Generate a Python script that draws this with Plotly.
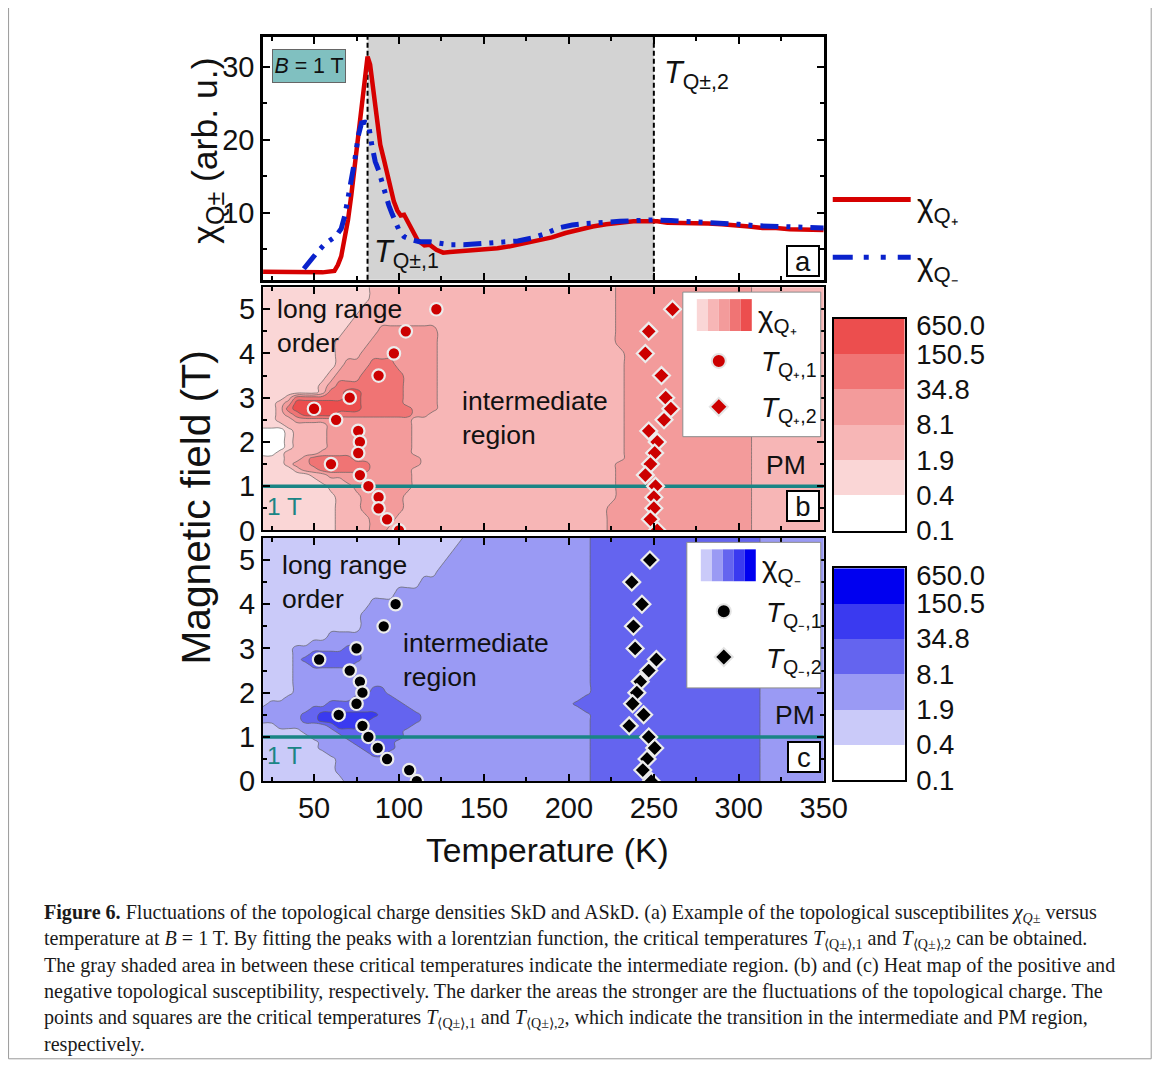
import plotly.graph_objects as go

W, H = 1168, 1068

# ---------------- data: panel (a), chi at B = 1 T ----------------
T_RED = [20, 40, 55, 62, 64, 66, 68, 70, 72, 74, 76, 78, 80, 81.5, 83, 85, 87, 89, 91, 93, 95, 97,
         99, 101, 103, 105, 108, 111, 115, 118, 122, 126, 130, 135, 142, 150, 158, 166, 174, 182,
         190, 198, 206, 214, 222, 230, 238, 246, 252, 258, 266, 274, 282, 290, 298, 306, 314, 322,
         330, 340, 350]
CHI_RED = [1.9, 1.8, 1.8, 2.0, 2.8, 4.0, 6.5, 9.0, 12.5, 16.5, 20.0, 24.0, 28.5, 31.4, 30.3, 26.5,
           22.0, 19.3, 17.4, 15.3, 13.2, 11.5, 10.3, 9.6, 9.7, 8.9, 7.4, 6.2, 5.5, 5.6, 4.9, 4.5,
           4.6, 4.7, 4.7, 4.9, 5.1, 5.4, 5.8, 6.1, 6.6, 7.2, 7.7, 8.1, 8.4, 8.6, 8.8, 8.8, 8.8, 8.6,
           8.6, 8.5, 8.5, 8.4, 8.3, 8.1, 7.9, 7.9, 7.7, 7.6, 7.6]
T_BLUE = [44, 48, 52, 56, 60, 63, 66, 68, 70, 72, 74, 76, 78, 80, 82, 84, 86, 88, 90, 92, 94, 96,
          98, 100, 103, 107, 112, 118, 124, 130, 138, 146, 154, 162, 170, 178, 186, 194, 202, 210,
          220, 230, 240, 250, 260, 270, 280, 290, 300, 310, 320, 330, 340, 350]
CHI_BLUE = [2.3, 3.5, 4.6, 5.6, 6.3, 6.8, 7.8, 9.5, 12.0, 14.2, 17.2, 20.5, 22.3, 22.4, 22.2, 19.3,
            17.0, 15.8, 14.0, 12.6, 11.0, 9.8, 8.8, 7.6, 6.7, 6.3, 6.0, 6.0, 5.8, 5.6, 5.6, 5.7,
            5.8, 6.0, 6.1, 6.5, 7.1, 7.9, 8.3, 8.5, 8.7, 8.8, 8.9, 9.0, 8.9, 8.8, 8.7, 8.6, 8.4,
            8.2, 8.1, 8.0, 7.9, 7.9]
T_Q1_AT_1T = 81.5
T_Q2_AT_1T = 250.0
B_CUT = 1.0

# ---------------- data: critical temperatures ----------------
B_T1_PLUS = [5.0, 4.5, 4.0, 3.5, 3.0, 2.75, 2.5, 2.25, 2.0, 1.75, 1.5, 1.25, 1.0, 0.75, 0.5, 0.25, 0.0]
T1_PLUS = [122, 104, 97, 88, 71, 50, 63, 76, 77, 76, 60, 77, 82, 88, 88, 93, 100]
B_T2_PLUS = [5.0, 4.5, 4.0, 3.5, 3.0, 2.75, 2.5, 2.25, 2.0, 1.75, 1.5, 1.25, 1.0, 0.75, 0.5, 0.25, 0.0]
T2_PLUS = [261, 247, 245, 254.5, 257, 260, 256, 247, 252, 250.5, 248, 245, 251, 250, 250, 248, 252]
B_T1_MINUS = [4.0, 3.5, 3.0, 2.75, 2.5, 2.25, 2.0, 1.75, 1.5, 1.25, 1.0, 0.75, 0.5, 0.25, 0.0]
T1_MINUS = [98, 91, 75, 53, 71, 77, 78.5, 75, 64.5, 78.5, 82, 87.5, 93, 106, 110.5]
B_T2_MINUS = [5.0, 4.5, 4.0, 3.5, 3.0, 2.75, 2.5, 2.25, 2.0, 1.75, 1.5, 1.25, 1.0, 0.75, 0.5, 0.25, 0.0]
T2_MINUS = [247.7, 237, 243, 238, 239, 251.5, 247, 242, 240, 237.5, 244, 235.5, 247, 250.5, 246, 243.5, 248.5]

# ---------------- data: heat-map level regions (band index, upper T of the run) ----------------
# band 0: 0.1-0.4, 1: 0.4-1.9, 2: 1.9-8.1, 3: 8.1-34.8, 4: 34.8-150.5, 5: 150.5-650
PLUS_ROWS = [
    (5.5,   [(1, 84), (2, 228), (3, 306), (2, 350)]),
    (5.25,  [(1, 81), (2, 229), (3, 306), (2, 350)]),
    (5.0,   [(1, 78), (2, 229), (3, 306), (2, 350)]),
    (4.75,  [(1, 73), (2, 229), (3, 306), (2, 350)]),
    (4.5,   [(1, 68), (2, 87), (3, 122), (2, 229), (3, 306), (2, 350)]),
    (4.25,  [(1, 64), (2, 80), (3, 123), (2, 229), (3, 306), (2, 350)]),
    (4.0,   [(1, 61), (2, 75), (3, 123), (2, 230), (3, 306), (2, 350)]),
    (3.75,  [(1, 60), (2, 66), (3, 82), (4, 99), (3, 123), (2, 230), (3, 306), (2, 350)]),
    (3.5,   [(1, 57), (2, 61), (3, 77), (4, 100), (3, 123), (2, 230), (3, 306), (2, 350)]),
    (3.25,  [(1, 52), (2, 57), (3, 61), (4, 100), (3, 123), (2, 230), (3, 306), (2, 350)]),
    (3.125, [(1, 50), (2, 57), (3, 59), (4, 68), (5, 78), (4, 101), (3, 123), (2, 230), (3, 306), (2, 350)]),
    (3.0,   [(1, 31), (2, 35), (3, 38), (4, 67), (5, 79), (4, 102), (3, 123), (2, 230), (3, 306), (2, 350)]),
    (2.875, [(1, 28), (2, 33), (3, 35), (4, 38), (5, 79), (4, 104), (3, 123), (2, 230), (3, 306), (2, 350)]),
    (2.75,  [(1, 27), (2, 32), (3, 34), (4, 36), (5, 77), (4, 106), (3, 122), (2, 230), (3, 306), (2, 350)]),
    (2.625, [(1, 26), (2, 32), (3, 35), (4, 40), (5, 60), (4, 107), (3, 116), (2, 230), (3, 306), (2, 350)]),
    (2.5,   [(1, 26), (2, 36), (3, 107), (2, 230), (3, 306), (2, 350)]),
    (2.375, [(1, 30), (2, 56), (3, 106), (2, 230), (3, 306), (2, 350)]),
    (2.25,  [(0, 33), (1, 36), (2, 56), (3, 106), (2, 230), (3, 306), (2, 350)]),
    (2.0,   [(0, 34), (1, 37), (2, 56), (3, 107), (2, 230), (3, 306), (2, 350)]),
    (1.875, [(0, 33), (1, 37), (2, 55), (3, 108), (2, 230), (3, 306), (2, 350)]),
    (1.75,  [(0, 28), (1, 34), (2, 54), (3, 109), (2, 230), (3, 306), (2, 350)]),
    (1.625, [(1, 33), (2, 40), (3, 49), (4, 74), (3, 110), (2, 230), (3, 306), (2, 350)]),
    (1.5,   [(1, 33), (2, 38), (3, 46), (4, 80), (3, 110), (2, 229), (3, 306), (2, 350)]),
    (1.375, [(1, 36), (2, 43), (3, 54), (4, 80), (3, 109), (2, 229), (3, 306), (2, 350)]),
    (1.25,  [(1, 45), (2, 58), (3, 108), (2, 229), (3, 306), (2, 350)]),
    (1.125, [(1, 50), (2, 66), (3, 107), (2, 229), (3, 306), (2, 350)]),
    (1.0,   [(1, 55), (2, 72), (3, 106), (2, 229), (3, 306), (2, 350)]),
    (0.75,  [(1, 60), (2, 76), (3, 103), (2, 227), (3, 306), (2, 350)]),
    (0.5,   [(1, 62), (2, 78), (3, 101), (2, 224), (3, 306), (2, 350)]),
    (0.25,  [(1, 63), (2, 81), (3, 98), (2, 222), (3, 306), (2, 350)]),
    (0.0,   [(1, 64), (2, 84), (3, 94), (2, 222), (3, 306), (2, 350)]),
]
MINUS_ROWS = [
    (5.5,   [(1, 137), (2, 212), (3, 310), (2, 350)]),
    (5.25,  [(1, 132), (2, 212), (3, 310), (2, 350)]),
    (5.0,   [(1, 128), (2, 212), (3, 310), (2, 350)]),
    (4.75,  [(1, 121), (2, 212), (3, 310), (2, 350)]),
    (4.5,   [(1, 111), (2, 212), (3, 310), (2, 350)]),
    (4.25,  [(1, 96), (2, 212), (3, 310), (2, 350)]),
    (4.0,   [(1, 82), (2, 212), (3, 310), (2, 350)]),
    (3.75,  [(1, 79), (2, 212), (3, 310), (2, 350)]),
    (3.5,   [(1, 77), (2, 212), (3, 310), (2, 350)]),
    (3.25,  [(1, 55), (2, 212), (3, 310), (2, 350)]),
    (3.125, [(1, 45), (2, 212), (3, 310), (2, 350)]),
    (3.0,   [(1, 38), (2, 69), (3, 77), (2, 212), (3, 310), (2, 350)]),
    (2.875, [(1, 37), (2, 49), (3, 77), (2, 212), (3, 310), (2, 350)]),
    (2.75,  [(1, 37), (2, 42), (3, 75), (2, 212), (3, 310), (2, 350)]),
    (2.625, [(1, 37), (2, 45), (3, 71), (2, 212), (3, 310), (2, 350)]),
    (2.5,   [(1, 37), (2, 212), (3, 310), (2, 350)]),
    (2.25,  [(1, 37), (2, 212), (3, 310), (2, 350)]),
    (2.0,   [(1, 36), (2, 83), (3, 93), (2, 212), (3, 310), (2, 350)]),
    (1.875, [(1, 33), (2, 71), (3, 97), (2, 208), (3, 310), (2, 350)]),
    (1.75,  [(1, 22), (2, 58), (3, 104), (2, 204), (3, 310), (2, 350)]),
    (1.625, [(2, 46), (3, 107), (2, 209), (3, 310), (2, 350)]),
    (1.5,   [(2, 40), (3, 50), (4, 87), (3, 111), (2, 212), (3, 310), (2, 350)]),
    (1.375, [(2, 41), (3, 52), (4, 82), (3, 110), (2, 212), (3, 310), (2, 350)]),
    (1.25,  [(1, 25), (2, 57), (3, 60), (4, 78), (3, 106), (2, 212), (3, 310), (2, 350)]),
    (1.125, [(1, 41), (2, 63), (3, 104), (2, 212), (3, 310), (2, 350)]),
    (1.0,   [(1, 47), (2, 69), (3, 101), (2, 212), (3, 310), (2, 350)]),
    (0.875, [(1, 50), (2, 73), (3, 99), (2, 212), (3, 310), (2, 350)]),
    (0.75,  [(1, 54), (2, 77), (3, 96), (2, 212), (3, 310), (2, 350)]),
    (0.625, [(1, 57), (2, 84), (3, 91), (2, 212), (3, 310), (2, 350)]),
    (0.5,   [(1, 60), (2, 212), (3, 310), (2, 350)]),
    (0.25,  [(1, 64), (2, 212), (3, 310), (2, 350)]),
    (0.0,   [(1, 66), (2, 212), (3, 310), (2, 350)]),
]
BAND_INDEX = [0, 1, 2, 3, 4, 5]
LEVEL_LABELS = ["0.1", "0.4", "1.9", "8.1", "34.8", "150.5", "650.0"]
X_TICKS = [50, 100, 150, 200, 250, 300, 350]

CAPTION_LINES = [
    "<b>Figure 6.</b> Fluctuations of the topological charge densities SkD and ASkD. (a) Example of the topological susceptibilites <i>χ<sub>Q±</sub></i> versus",
    "temperature at <i>B</i> = 1 T. By fitting the peaks with a lorentzian function, the critical temperatures <i>T</i><sub>⟨Q±⟩,1</sub> and <i>T</i><sub>⟨Q±⟩,2</sub> can be obtained.",
    "The gray shaded area in between these critical temperatures indicate the intermediate region. (b) and (c) Heat map of the positive and",
    "negative topological susceptibility, respectively. The darker the areas the stronger are the fluctuations of the topological charge. The",
    "points and squares are the critical temperatures <i>T</i><sub>⟨Q±⟩,1</sub> and <i>T</i><sub>⟨Q±⟩,2</sub>, which indicate the transition in the intermediate and PM region,",
    "respectively.",
]

# ---------------- styles ----------------
RED_BANDS = ["#ffffff", "#fad6d6", "#f7b6b6", "#f39b9b", "#f07474", "#ec4e4e"]
BLUE_BANDS = ["#ffffff", "#cacaf9", "#9a9af4", "#6464ef", "#3a3af0", "#0000f0"]
FONT = "Liberation Sans, Arial, sans-serif"
SERIF = "Liberation Serif, Times New Roman, serif"
TEAL = "#1a8585"
T_MIN, T_MAX = 20, 350

# layout placement (target picture pixels -> paper), corrected for page offset/scale
SX, OX, SY, OY = 0.98, 7.8, 0.985, 7.9


def px(x):
    return ((x - OX) / SX) / W


def py(y):
    yt = y * 1.0046 - 4.2
    return 1 - ((yt - OY) / SY) / H


def fs(s):
    return round(s / 0.982, 1)


T_GRID = list(range(T_MIN, T_MAX + 1, 5))


def expand(rows):
    rows_sorted = sorted(rows, key=lambda r: r[0])
    ys = [r[0] for r in rows_sorted]
    z = []
    for _, segs in rows_sorted:
        line = []
        for t in T_GRID:
            for band, tend in segs:
                if t <= tend:
                    line.append(band)
                    break
        z.append(line)
    return ys, z


def band_scale(colors):
    return [[i / 5, c] for i, c in enumerate(colors)]


fig = go.Figure()

# panel (a)
fig.add_trace(go.Scatter(x=T_RED, y=CHI_RED, mode="lines", xaxis="x", yaxis="y",
                         line=dict(color="#d60000", width=4.5), hoverinfo="skip"))
fig.add_trace(go.Scatter(x=T_BLUE, y=CHI_BLUE, mode="lines", xaxis="x", yaxis="y",
                         line=dict(color="#0a22cc", width=5, dash="18px,8px,4px,8px,4px,8px"),
                         hoverinfo="skip"))

# panels (b) and (c)
for rows, colors, xa, ya, t1b, t1, t2b, t2, mcol in [
    (PLUS_ROWS, RED_BANDS, "x2", "y2", B_T1_PLUS, T1_PLUS, B_T2_PLUS, T2_PLUS, "#cc0000"),
    (MINUS_ROWS, BLUE_BANDS, "x3", "y3", B_T1_MINUS, T1_MINUS, B_T2_MINUS, T2_MINUS, "#000000"),
]:
    ys, z = expand(rows)
    fig.add_trace(go.Contour(x=T_GRID, y=ys, z=z, xaxis=xa, yaxis=ya, autocontour=False,
                             contours=dict(start=0.5, end=4.5, size=1, coloring="fill"),
                             colorscale=band_scale(colors), showscale=False,
                             line=dict(color="rgba(95,95,95,0.85)", width=0.8, smoothing=1.3),
                             hoverinfo="skip"))
    fig.add_trace(go.Scatter(x=[T_MIN, T_MAX], y=[B_CUT, B_CUT], mode="lines", xaxis=xa, yaxis=ya,
                             line=dict(color=TEAL, width=3.5), hoverinfo="skip"))
    fig.add_trace(go.Scatter(x=t1, y=t1b, mode="markers", xaxis=xa, yaxis=ya,
                             marker=dict(symbol="circle", size=12.5, color=mcol,
                                         line=dict(color="#ececec", width=2.2)),
                             hoverinfo="skip"))
    fig.add_trace(go.Scatter(x=t2, y=t2b, mode="markers", xaxis=xa, yaxis=ya,
                             marker=dict(symbol="diamond", size=13, color=mcol,
                                         line=dict(color="#ececec", width=2.2)),
                             hoverinfo="skip"))

# colour bars
for colors, xa, ya in [(RED_BANDS, "x4", "y4"), (BLUE_BANDS, "x5", "y5")]:
    fig.add_trace(go.Heatmap(x=[0], y=BAND_INDEX, z=[[b] for b in BAND_INDEX], xaxis=xa, yaxis=ya,
                             colorscale=band_scale(colors), zmin=0, zmax=5, showscale=False,
                             hoverinfo="skip"))

XD = [px(263), px(824)]
TICKFONT = dict(family=FONT, size=fs(28.5), color="#111")
common_x = dict(range=[T_MIN, T_MAX], domain=XD, showline=True, linecolor="black", linewidth=2,
                mirror="allticks", ticks="inside", ticklen=7, tickwidth=2, tickcolor="black",
                tickmode="array", tickvals=X_TICKS, showgrid=False, zeroline=False,
                minor=dict(ticks="inside", ticklen=4, tickwidth=1.5, tickcolor="black",
                           dtick=25, tick0=0, showgrid=False),
                tickfont=TICKFONT)
common_yb = dict(range=[0, 5.5], showline=True, linecolor="black", linewidth=2,
                 mirror="allticks", ticks="inside", ticklen=7, tickwidth=2, tickcolor="black",
                 dtick=1, tick0=0, showgrid=False, zeroline=False,
                 minor=dict(ticks="inside", ticklen=4, tickwidth=1.5, tickcolor="black",
                            dtick=0.5, tick0=0, showgrid=False),
                 tickfont=TICKFONT)

layout = dict(
    width=W, height=H, margin=dict(l=0, r=0, t=0, b=0),
    paper_bgcolor="white", plot_bgcolor="rgba(0,0,0,0)", showlegend=False,
    font=dict(family=FONT, color="#111"),
    xaxis=dict(common_x, anchor="y", showticklabels=False, linewidth=2.5),
    yaxis=dict(range=[0.8, 34.1], domain=[py(276.5), py(33)], anchor="x", showline=True,
               linecolor="black", linewidth=2.5, mirror="allticks", ticks="inside", ticklen=7,
               tickwidth=2, tickcolor="black", dtick=10, tick0=0, showgrid=False, zeroline=False,
               minor=dict(ticks="inside", ticklen=4, tickwidth=1.5, tickcolor="black", dtick=5,
                          tick0=0, showgrid=False),
               tickfont=TICKFONT),
    xaxis2=dict(common_x, anchor="y2", showticklabels=False),
    yaxis2=dict(common_yb, domain=[py(528), py(284)], anchor="x2"),
    xaxis3=dict(common_x, anchor="y3", showticklabels=True),
    yaxis3=dict(common_yb, domain=[py(779.5), py(535.5)], anchor="x3"),
)
for xa, ya, ytop, ybot in [("xaxis4", "yaxis4", 315.7, 528.3), ("xaxis5", "yaxis5", 566, 778.3)]:
    n = xa[-1]
    layout[xa] = dict(domain=[px(834), px(905)], range=[-0.5, 0.5], anchor="y" + n,
                      showticklabels=False, ticks="", showline=True, mirror=True,
                      linecolor="black", linewidth=2, showgrid=False, zeroline=False)
    layout[ya] = dict(domain=[py(ybot), py(ytop)], range=[-0.5, 5.5], anchor="x" + n,
                      side="right", tickmode="array",
                      tickvals=[b - 0.5 for b in BAND_INDEX] + [5.3], ticktext=LEVEL_LABELS,
                      ticks="", showline=True, mirror=True, linecolor="black", linewidth=2,
                      showgrid=False, zeroline=False, ticklabelstandoff=4,
                      tickfont=dict(family=FONT, size=fs(27), color="#111"))
fig.update_layout(**layout)

shapes = []
# panel (a) shaded intermediate region and critical temperatures
shapes.append(dict(type="rect", xref="x", yref="y domain", x0=T_Q1_AT_1T, x1=T_Q2_AT_1T,
                   y0=0, y1=1, fillcolor="#d3d3d3", line=dict(width=0), layer="below"))
for tq in (T_Q1_AT_1T, T_Q2_AT_1T):
    shapes.append(dict(type="line", xref="x", yref="y domain", x0=tq, x1=tq, y0=0, y1=1,
                       line=dict(color="black", width=2, dash="5px,3px"), layer="below"))
# panel (a) legend lines
shapes.append(dict(type="line", xref="paper", yref="paper", x0=px(833), x1=px(911),
                   y0=py(196), y1=py(196), line=dict(color="#d60000", width=5)))
shapes.append(dict(type="line", xref="paper", yref="paper", x0=px(833), x1=px(911),
                   y0=py(254), y1=py(254),
                   line=dict(color="#0a22cc", width=5, dash="20px,11px,5px,12px,5px,12px")))


def diamond(cx, cy, r):
    return (f"M {px(cx - r)},{py(cy)} L {px(cx)},{py(cy - r)} L {px(cx + r)},{py(cy)} "
            f"L {px(cx)},{py(cy + r)} Z")


def text(x, y, s, size, xanchor="center", color="#111", family=FONT, **kw):
    d = dict(xref="paper", yref="paper", x=px(x), y=py(y), xanchor=xanchor, yanchor="middle",
             showarrow=False, text=s, font=dict(family=family, size=fs(size), color=color))
    d.update(kw)
    return d


annotations = []
for (bx0, by0, bx1, by1, sw_x, sw_y0, sw_y1, key_x, ky1, ky2, colors, mcol, txt_x, sym) in [
    (683, 289, 821, 434, 697, 296, 328, 719, 358, 404, RED_BANDS, "#cc0000", 759, "₊"),
    (687, 540, 821, 686, 701, 547, 579, 724, 609, 655, BLUE_BANDS, "#000000", 764, "₋"),
]:
    shapes.append(dict(type="rect", xref="paper", yref="paper", x0=px(bx0), x1=px(bx1),
                       y0=py(by1), y1=py(by0), fillcolor="white",
                       line=dict(color="#8c8c8c", width=1)))
    for i in range(5):
        shapes.append(dict(type="rect", xref="paper", yref="paper", x0=px(sw_x + 11 * i),
                           x1=px(sw_x + 11 * (i + 1)), y0=py(sw_y1), y1=py(sw_y0),
                           fillcolor=colors[i + 1], line=dict(width=0)))
    shapes.append(dict(type="circle", xref="paper", yref="paper", x0=px(key_x - 7),
                       x1=px(key_x + 7), y0=py(ky1 + 7), y1=py(ky1 - 7), fillcolor=mcol,
                       line=dict(color="#e4e4e4", width=2)))
    shapes.append(dict(type="path", xref="paper", yref="paper", path=diamond(key_x, ky2, 9),
                       fillcolor=mcol, line=dict(color="#e4e4e4", width=2)))
    annotations.append(text(sw_x + 59, (sw_y0 + sw_y1) / 2 + 3, f"χ<sub>Q{sym}</sub>", 29,
                            xanchor="left"))
    annotations.append(text(txt_x, ky1 + 3, f"<i>T</i><sub>Q{sym},1</sub>", 27.5, xanchor="left"))
    annotations.append(text(txt_x, ky2 + 3, f"<i>T</i><sub>Q{sym},2</sub>", 27.5, xanchor="left"))

# outer frame (left, right, bottom edges)
shapes.append(dict(type="rect", xref="paper", yref="paper", x0=max(px(3), 0.0005),
                   x1=min(px(1160), 0.9993), y0=py(1058), y1=1.05,
                   line=dict(color="#9a9a9a", width=1)))

# panel (a) legend labels
annotations.append(text(915, 204, "χ<sub>Q₊</sub>", 31, xanchor="left"))
annotations.append(text(915, 263, "χ<sub>Q₋</sub>", 31, xanchor="left"))

# panel (a) texts
annotations.append(text(308.5, 62.5, "<i>B</i> = 1 T", 21, bgcolor="#80c0c0",
                        bordercolor="#666666", borderwidth=1, borderpad=0,
                        width=round(71 / 0.98), height=round(32 / 0.985)))
annotations.append(text(372, 250, "<i>T</i><sub>Q±,1</sub>", 30, xanchor="left"))
annotations.append(text(662, 71, "<i>T</i><sub>Q±,2</sub>", 30, xanchor="left"))

# panel letters
for lab, cx, cy in [("a", 803.5, 257.5), ("b", 803.5, 504), ("c", 804, 755)]:
    annotations.append(text(cx, cy, lab, 27, bgcolor="white", bordercolor="black",
                            borderwidth=2, borderpad=0, width=30, height=28))

# region labels (placed in data coordinates of panels b and c)
for xa, ya, lr, im, pm, one in [
    ("x2", "y2", (27, 4.62), (136, 2.55), (328, 1.48), (21.2, 0.55)),
    ("x3", "y3", (30, 4.5), (101, 2.75), (333, 1.49), (21.2, 0.58)),
]:
    for (xx, yy), s, anc, size, col in [(lr, "long range<br>order", "left", 26, "#111"),
                                        (im, "intermediate<br>region", "left", 26, "#111"),
                                        (pm, "PM", "center", 26, "#111"),
                                        (one, "1 T", "left", 24, TEAL)]:
        annotations.append(dict(xref=xa, yref=ya, x=xx, y=yy, xanchor=anc, yanchor="middle",
                                align="left", showarrow=False, text=s,
                                font=dict(family=FONT, size=fs(size), color=col)))

# axis titles
annotations.append(text(206, 147, "χ<sub>Q±</sub> (arb. u.)", 35, textangle=-90))
annotations.append(text(196, 505, "Magnetic field (T)", 40, textangle=-90))
annotations.append(text(548, 849, "Temperature (K)", 33))

# caption
for i, line in enumerate(CAPTION_LINES):
    annotations.append(text(42, 912 + 26.3 * i, line, 19.7, xanchor="left", color="#1a1a1a",
                            family=SERIF))

fig.update_layout(shapes=shapes, annotations=annotations)
fig.write_html("out.html")
